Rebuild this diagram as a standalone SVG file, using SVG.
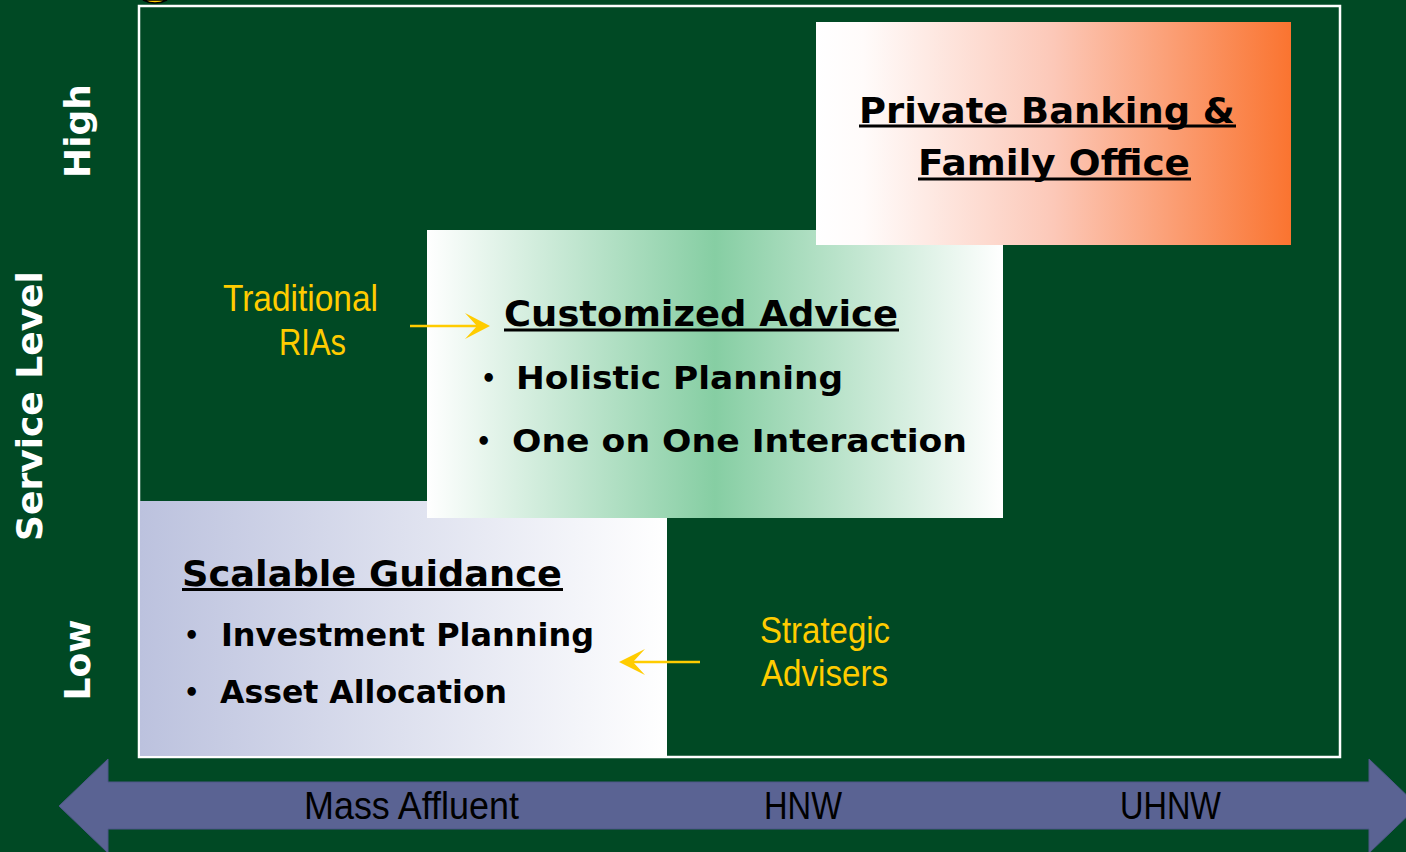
<svg xmlns="http://www.w3.org/2000/svg" width="1406" height="852" viewBox="0 0 1406 852">
<defs>
<linearGradient id="gOrange" x1="0" y1="0" x2="1" y2="0">
<stop offset="0" stop-color="#FFFFFF"/>
<stop offset="0.1" stop-color="#FFFBFA"/>
<stop offset="0.5" stop-color="#FCC8B8"/>
<stop offset="1" stop-color="#FA7430"/>
</linearGradient>
<linearGradient id="gGreen" x1="0" y1="0" x2="1" y2="0">
<stop offset="0" stop-color="#FFFFFF"/>
<stop offset="0.5" stop-color="#86CEA3"/>
<stop offset="1" stop-color="#FFFFFF"/>
</linearGradient>
<linearGradient id="gLav" x1="0" y1="0" x2="1" y2="0">
<stop offset="0" stop-color="#BCC2DE"/>
<stop offset="1" stop-color="#FFFFFF"/>
</linearGradient>
</defs>
<style>
.bold{font-family:"DejaVu Sans",Verdana,sans-serif;font-weight:bold;fill:#000000;}
.axis{font-family:"DejaVu Sans",Verdana,sans-serif;font-weight:bold;fill:#FFFFFF;font-size:36px;}
.narrow{font-family:"Liberation Sans",Arial,sans-serif;}
.yel{fill:#FFCC00;font-size:37px;}
.blk{fill:#000000;font-size:38px;}
.ul{stroke:#000000;stroke-width:3;}
.conn{stroke:#FFCC00;stroke-width:2.5;fill:none;}
.head{fill:#FFCC00;}
</style>
<rect x="0" y="0" width="1406" height="852" fill="#004924"/>
<path d="M143,0 Q155,6 167,0 Z" fill="#FFCC00" stroke="#000000" stroke-width="1.5"/>
<rect id="frame" x="139" y="6" width="1201" height="751" fill="none" stroke="#FFFFFF" stroke-width="2.5"/>

<g id="scalable-guidance">
<rect x="140" y="501" width="527" height="255" fill="url(#gLav)"/>
<text class="bold" x="182" y="586" font-size="36" textLength="380" lengthAdjust="spacingAndGlyphs">Scalable Guidance</text>
<line class="ul" x1="182" y1="589.5" x2="563" y2="589.5"/>
<text class="bold" x="184" y="644" font-size="24">•</text>
<text class="bold" x="221" y="646" font-size="32" textLength="373" lengthAdjust="spacingAndGlyphs">Investment Planning</text>
<text class="bold" x="184" y="701" font-size="24">•</text>
<text class="bold" x="220" y="703" font-size="32" textLength="287" lengthAdjust="spacingAndGlyphs">Asset Allocation</text>
</g>

<g id="customized-advice">
<rect x="427" y="230" width="576" height="288" fill="url(#gGreen)"/>
<text class="bold" x="504" y="326" font-size="36" textLength="394" lengthAdjust="spacingAndGlyphs">Customized Advice</text>
<line class="ul" x1="504" y1="330" x2="899" y2="330"/>
<text class="bold" x="481" y="387" font-size="24">•</text>
<text class="bold" x="516" y="389" font-size="32" textLength="327" lengthAdjust="spacingAndGlyphs">Holistic Planning</text>
<text class="bold" x="476" y="450" font-size="24">•</text>
<text class="bold" x="512" y="452" font-size="32" textLength="455" lengthAdjust="spacingAndGlyphs">One on One Interaction</text>
</g>

<g id="private-banking">
<rect x="816" y="22" width="475" height="223" fill="url(#gOrange)"/>
<text class="bold" x="859" y="123" font-size="36" textLength="376" lengthAdjust="spacingAndGlyphs">Private Banking &amp;</text>
<line class="ul" x1="859" y1="126" x2="1236" y2="126"/>
<text class="bold" x="918" y="175" font-size="36" textLength="272" lengthAdjust="spacingAndGlyphs">Family Office</text>
<line class="ul" x1="918" y1="179" x2="1191" y2="179"/>
</g>

<g id="traditional-rias">
<text class="narrow yel" x="223" y="311" textLength="155" lengthAdjust="spacingAndGlyphs">Traditional</text>
<text class="narrow yel" x="279" y="355" textLength="67" lengthAdjust="spacingAndGlyphs">RIAs</text>
</g>

<g id="strategic-advisers">
<text class="narrow yel" x="760" y="643" textLength="130" lengthAdjust="spacingAndGlyphs">Strategic</text>
<text class="narrow yel" x="761" y="686" textLength="127" lengthAdjust="spacingAndGlyphs">Advisers</text>
</g>

<g id="axis-y">
<text class="axis" transform="translate(42,406) rotate(-90)" text-anchor="middle">Service Level</text>
<text class="axis" transform="translate(90,131) rotate(-90)" text-anchor="middle">High</text>
<text class="axis" transform="translate(90,660) rotate(-90)" text-anchor="middle">Low</text>
</g>

<g id="axis-x">
<path d="M59,806 L108,759 L108,782 L1369,782 L1369,759 L1418,806 L1369,853 L1369,829 L108,829 L108,853 Z" fill="#5A6393" stroke="#4E5788" stroke-width="1"/>
<text class="narrow blk" x="304" y="819" textLength="215" lengthAdjust="spacingAndGlyphs">Mass Affluent</text>
<text class="narrow blk" x="764" y="819" textLength="78" lengthAdjust="spacingAndGlyphs">HNW</text>
<text class="narrow blk" x="1120" y="819" textLength="101" lengthAdjust="spacingAndGlyphs">UHNW</text>
</g>

<g id="connectors">
<line class="conn" x1="410" y1="326" x2="480" y2="326"/>
<path class="head" d="M490,326 L465,313 L477,326 L465,339 Z"/>
<line class="conn" x1="700" y1="662" x2="630" y2="662"/>
<path class="head" d="M619,662 L645,649 L633,662 L645,675 Z"/>
</g>
</svg>
